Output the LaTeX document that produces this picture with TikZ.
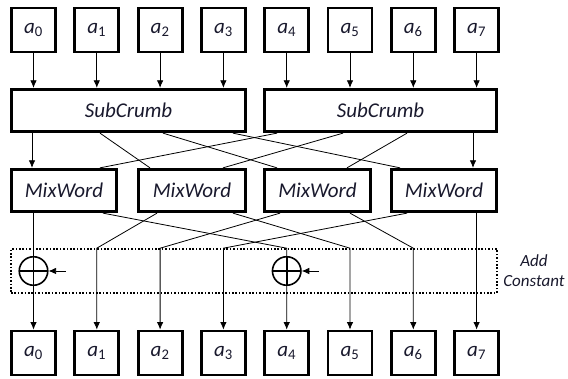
\documentclass[tikz,border=0pt]{standalone}
\usepackage{fontspec}
\setmainfont{Carlito}
\usetikzlibrary{arrows.meta,positioning}
\definecolor{ink}{RGB}{25,25,45}
\tikzset{
  word/.style={draw,line width=2.8pt,minimum width=44pt,minimum height=44pt,inner sep=0pt,text=ink,font=\fontsize{21}{24}\selectfont},
  func/.style={draw,line width=2.8pt,minimum height=42.5pt,inner sep=0pt,text=ink,font=\fontsize{21}{24}\selectfont\itshape},
  wire/.style={line width=0.8pt},
  arr/.style={wire,-{Latex[length=7.5pt,width=6.5pt]}},
  xor/.style={circle,draw,fill=white,line width=1.6pt,minimum size=28.5pt,inner sep=0pt,
    path picture={\draw[line width=1.6pt] (path picture bounding box.north) -- (path picture bounding box.south)
      (path picture bounding box.west) -- (path picture bounding box.east);}},
  stage/.style={draw,line width=1.6pt,dash pattern=on 1.6pt off 1.8pt},
}
\newcommand{\aw}[1]{\textit{a}\textsubscript{#1}}
\begin{document}
\begin{tikzpicture}[x=1pt,y=-1pt]
\useasboundingbox (0,0) rectangle (568,379);
% words in and out
\foreach \i in {0,...,7}{
  \node[word] (t\i) at ({33.5+63.3*\i},30) {\aw{\i}};
  \node[word] (b\i) at ({33.5+63.3*\i},353) {\aw{\i}};
}
% SubCrumb and MixWord
\node[func,minimum width=234pt] (sc0) at (128.5,110.5) {SubCrumb};
\node[func,minimum width=232pt] (sc1) at (380.5,110.5) {SubCrumb};
\node[func,minimum width=105.5pt] (mw0) at (64,190.5) {MixWord};
\node[func,minimum width=107.5pt] (mw1) at (192,190.5) {MixWord};
\node[func,minimum width=106.5pt] (mw2) at (317.5,190.5) {MixWord};
\node[func,minimum width=105.5pt] (mw3) at (444,190.5) {MixWord};
% add constant
\node[stage,minimum width=486pt,minimum height=44pt] (ac) at (254,271) {};
\node[right=2pt of ac,align=center,text=ink,font=\fontsize{17}{20}\selectfont\itshape] (aclbl) {Add\\Constant};
\foreach \i in {0,...,3}
  \draw[arr] (t\i) -- (t\i |- sc0.north);
\foreach \i in {4,...,7}
  \draw[arr] (t\i) -- (t\i |- sc1.north);
% crumbs to words
\draw[arr] (32,0 |- sc0.south) -- (32,0 |- mw0.north);
\draw[arr] (473,0 |- sc1.south) -- (473,0 |- mw3.north);
\foreach \s/\p/\m/\q in {sc0/100/mw1/150,sc0/163/mw2/277,sc0/233/mw3/400,sc1/277/mw0/100,sc1/343/mw1/223,sc1/407/mw2/347}
  \draw[wire] (\p,0 |- \s.south) -- (\q,0 |- \m.north);
% words to output
\draw[arr] (b0 |- mw0.south) -- (b0);
\draw[arr] (b7 |- mw3.south) -- (b7);
\foreach \m/\p/\b in {mw0/103/b4,mw1/157/b1,mw1/233/b5,mw2/280/b2,mw2/350/b6,mw3/407/b3}
  \draw[arr] (\p,0 |- \m.south) -- (\b |- ac.north) -- (\b);
\node[xor] (x0) at (b0 |- ac) {};
\node[xor] (x4) at (b4 |- ac) {};
\draw[arr] ([xshift=17pt]x0.east) -- (x0.east);
\draw[arr] ([xshift=17pt]x4.east) -- (x4.east);
\end{tikzpicture}
\end{document}
